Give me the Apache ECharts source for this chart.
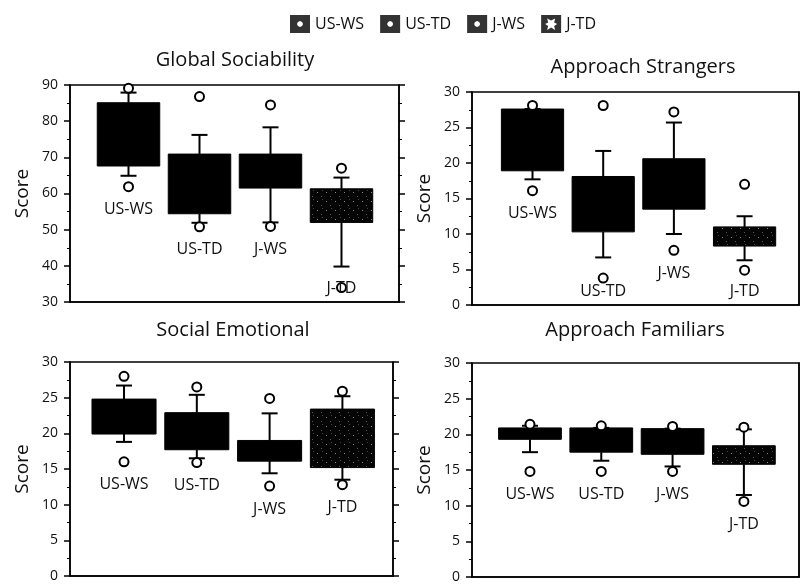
<!DOCTYPE html>
<html><head><meta charset="utf-8">
<script src="https://cdn.jsdelivr.net/npm/echarts@6/dist/echarts.min.js"></script>
<style>html,body{margin:0;padding:0;background:#fff}#c{width:800px;height:585px}</style>
</head><body><div id="c"></div>
<script>
// ---------- data ----------
const categories = ['US-WS', 'US-TD', 'J-WS', 'J-TD'];
const panelTitles = ['Global Sociability', 'Approach Strangers', 'Social Emotional', 'Approach Familiars'];
const globalSociabilityTicks = [30, 40, 50, 60, 70, 80, 90];
const subscaleTicks = [0, 5, 10, 15, 20, 25, 30];

// [lower whisker, Q1, median, Q3, upper whisker]
const globalSociability = [
  [64.9, 67.6, 76, 85.1, 87.9],
  [51.9, 54.4, 62, 70.9, 76.2],
  [52.0, 61.5, 66, 70.9, 78.3],
  [39.8, 52.0, 56, 61.3, 64.4]
];
const globalSociabilityOutliers = [[89.1, 61.9], [86.8, 50.8], [84.5, 50.9], [67.0, 34.0]];

const approachStrangers = [
  [17.7, 18.9, 23, 27.6, 27.6],
  [6.7, 10.3, 14, 18.1, 21.7],
  [10.0, 13.5, 17, 20.6, 25.7],
  [6.3, 8.3, 9.5, 11.0, 12.5]
];
const approachStrangersOutliers = [[28.1, 16.1], [28.1, 3.8], [27.2, 7.7], [17.0, 4.9]];

const socialEmotional = [
  [18.8, 19.9, 22, 24.8, 26.7],
  [16.5, 17.7, 20, 22.9, 25.4],
  [14.4, 16.1, 17.5, 19.0, 22.8],
  [13.5, 15.2, 19, 23.4, 25.2]
];
const socialEmotionalOutliers = [[28.0, 16.0], [26.5, 15.9], [24.9, 12.6], [25.9, 12.8]];

const approachFamiliars = [
  [17.5, 19.3, 20, 20.9, 21.2],
  [16.3, 17.5, 19, 20.9, 20.9],
  [15.5, 17.2, 19, 20.8, 20.8],
  [11.5, 15.8, 17, 18.4, 20.7]
];
const approachFamiliarsOutliers = [[21.4, 14.8], [21.2, 14.8], [21.1, 14.8], [21.0, 10.6]];

// ---------- styling / layout ----------
const INK = '#000';
const TXT = '#111';
const FONT = '"Open Sans", "DejaVu Sans", sans-serif';

const tex = document.createElement('canvas');
tex.width = 9; tex.height = 9;
const g = tex.getContext('2d');
g.fillStyle = '#050505'; g.fillRect(0, 0, 9, 9);
g.fillStyle = '#8a8a8a'; g.fillRect(2, 3, 1, 1);
g.fillStyle = '#5a5a5a'; g.fillRect(6, 7, 1, 1);
g.fillStyle = '#444'; g.fillRect(7, 1, 1, 1);
const texture = { image: tex, repeat: 'repeat' };

const panels = [
  { title: panelTitles[0], box: globalSociability, out: globalSociabilityOutliers, ticks: globalSociabilityTicks,
    grid: { left: 70, top: 85, width: 329, height: 217 }, xr: [-0.824, 3.81], tx: 235, ty: 60, rightTicks: true },
  { title: panelTitles[1], box: approachStrangers, out: approachStrangersOutliers, ticks: subscaleTicks,
    grid: { left: 472, top: 92, width: 327, height: 213 }, xr: [-0.856, 3.77], tx: 643, ty: 67, rightTicks: false },
  { title: panelTitles[2], box: socialEmotional, out: socialEmotionalOutliers, ticks: subscaleTicks,
    grid: { left: 70, top: 362, width: 323, height: 214 }, xr: [-0.742, 3.695], tx: 233, ty: 330, rightTicks: true },
  { title: panelTitles[3], box: approachFamiliars, out: approachFamiliarsOutliers, ticks: subscaleTicks,
    grid: { left: 472, top: 363, width: 327, height: 214 }, xr: [-0.813, 3.773], tx: 635, ty: 330, rightTicks: false }
];

function renderBox(params, api) {
  const i = api.value(0);
  const p = [1, 2, 3, 4, 5].map(k => api.coord([i, api.value(k)]));
  const cx = p[0][0];
  const bw = api.size([1, 0])[0] * 0.88;
  const cap = 16;
  const fill = i === 3 ? texture : INK;
  const ls = { stroke: INK, lineWidth: 2 };
  return { type: 'group', children: [
    { type: 'line', shape: { x1: cx, y1: p[4][1], x2: cx, y2: p[3][1] }, style: ls },
    { type: 'line', shape: { x1: cx, y1: p[0][1], x2: cx, y2: p[1][1] }, style: ls },
    { type: 'line', shape: { x1: cx - cap / 2, y1: p[4][1], x2: cx + cap / 2, y2: p[4][1] }, style: ls },
    { type: 'line', shape: { x1: cx - cap / 2, y1: p[0][1], x2: cx + cap / 2, y2: p[0][1] }, style: ls },
    { type: 'rect', shape: { x: cx - bw / 2, y: p[3][1], width: bw, height: p[1][1] - p[3][1] },
      style: { fill: fill, stroke: INK, lineWidth: 1 } }
  ] };
}

function renderLabel(params, api) {
  const i = api.value(0);
  const pt = api.coord([i, api.value(1)]);
  const bottom = params.coordSys.y + params.coordSys.height;
  const y = Math.min(pt[1] + 23, bottom - 14);
  return { type: 'text', x: pt[0], y: y,
    style: { text: categories[i], font: '16px ' + FONT, fill: TXT,
      align: 'center', verticalAlign: 'middle', textAlign: 'center', textVerticalAlign: 'middle' } };
}

const grid = [], xAxis = [], yAxis = [], series = [], graphic = [];
panels.forEach((pn, k) => {
  grid.push(Object.assign({ show: true, borderColor: INK, borderWidth: 1.5, backgroundColor: 'transparent' }, pn.grid));
  xAxis.push({ type: 'value', gridIndex: k, min: pn.xr[0], max: pn.xr[1],
    axisLine: { show: true, onZero: false, lineStyle: { color: INK, width: 1.5 } },
    axisTick: { show: false }, axisLabel: { show: false }, splitLine: { show: false } });
  const lo = pn.ticks[0], hi = pn.ticks[pn.ticks.length - 1], step = pn.ticks[1] - pn.ticks[0];
  yAxis.push({ type: 'value', gridIndex: k, min: lo, max: hi, interval: step, position: 'left',
    name: 'Score', nameLocation: 'middle', nameGap: 38,
    nameTextStyle: { fontSize: 19, fontFamily: FONT, color: TXT },
    axisLine: { show: true, onZero: false, lineStyle: { color: INK, width: 1.5 } },
    axisTick: { show: true, length: 6, lineStyle: { color: INK, width: 1.5 } },
    minorTick: { show: true, splitNumber: 2, length: 3, lineStyle: { color: INK, width: 1 } },
    axisLabel: { fontSize: 14, fontFamily: FONT, color: TXT, margin: 12 },
    splitLine: { show: false } });
  yAxis.push({ type: 'value', gridIndex: k, min: lo, max: hi, interval: step, position: 'right',
    axisLine: { show: true, onZero: false, lineStyle: { color: INK, width: 1.5 } },
    axisTick: { show: pn.rightTicks, length: 6, lineStyle: { color: INK, width: 1.5 } },
    minorTick: { show: pn.rightTicks, splitNumber: 2, length: 3, lineStyle: { color: INK, width: 1 } },
    axisLabel: { show: false }, splitLine: { show: false } });

  series.push({ type: 'custom', xAxisIndex: k, yAxisIndex: 2 * k, z: 2,
    renderItem: renderBox, encode: { x: 0, y: [1, 2, 3, 4, 5] },
    data: pn.box.map((b, i) => [i].concat(b)) });
  const outData = [];
  pn.out.forEach((arr, i) => arr.forEach(v => outData.push([i, v])));
  series.push({ type: 'scatter', xAxisIndex: k, yAxisIndex: 2 * k, z: 3, symbol: 'circle', symbolSize: 9,
    itemStyle: { color: '#fff', borderColor: INK, borderWidth: 2, opacity: 1 }, data: outData, silent: true });
  series.push({ type: 'custom', xAxisIndex: k, yAxisIndex: 2 * k, z: 4, renderItem: renderLabel,
    encode: { x: 0, y: 1 },
    data: pn.box.map((b, i) => [i, Math.min.apply(null, [b[0]].concat(pn.out[i]))]) });

  graphic.push({ type: 'text', x: pn.tx, y: pn.ty,
    style: { text: pn.title, font: '20px ' + FONT, fill: TXT,
      align: 'center', verticalAlign: 'middle', textAlign: 'center', textVerticalAlign: 'middle' } });
});

const dot = ' M13,9 L12.1,6.9 L10,6 L7.9,6.9 L7,9 L7.9,11.1 L10,12 L12.1,11.1 Z';
const sq = 'path://M0,0 L20,0 L20,18 L0,18 Z';
const star = ' M16,9 L13,7.5 L14,3.5 L10,5.5 L6,3.5 L7,7.5 L4,9 L7,11 L6,15 L10,12.5 L14,15 L13,11 Z';
const legendIcons = [sq + dot, sq + dot, sq + dot, sq + star];
categories.forEach(c => series.push({ type: 'scatter', name: c, data: [], itemStyle: { color: INK } }));

const chart = echarts.init(document.getElementById('c'), null, { renderer: 'canvas' });
chart.setOption({
  animation: false,
  backgroundColor: '#fff',
  legend: { left: 285, top: 10, itemWidth: 20, itemHeight: 18, itemGap: 16,
    textStyle: { fontSize: 16, fontFamily: FONT, color: TXT },
    data: categories.map((c, i) => ({ name: c, icon: legendIcons[i] })) },
  grid: grid, xAxis: xAxis, yAxis: yAxis, series: series, graphic: graphic
});
</script></body></html>
